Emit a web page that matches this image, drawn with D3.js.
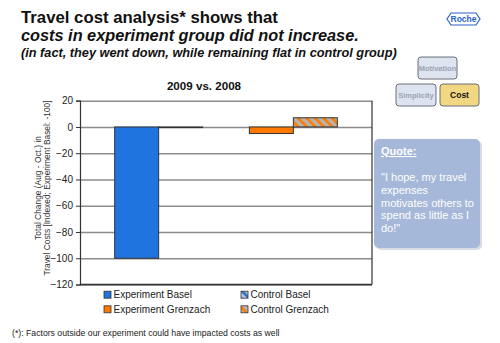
<!DOCTYPE html>
<html lang="en">
<head>
<meta charset="utf-8">
<script src="https://d3js.org/d3.v7.min.js"></script>
<style>
  body { margin: 0; background: #fff; }
  text { font-family: "Liberation Sans", Arial, sans-serif; }
</style>
</head>
<body>
<div id="chart"></div>
<script>

// data
var groups = ["Basel", "Grenzach"];
var seriesNames = ["Experiment", "Control"];
var experimentValues = [-100, -5];
var controlValues = [-0.5, 7];
var yTicks = [20, 0, -20, -40, -60, -80, -100, -120];
var legendLabels = ["Experiment Basel", "Control Basel", "Experiment Grenzach", "Control Grenzach"];
var titleLines = ["Travel cost analysis* shows that",
                  "costs in experiment group did not increase.",
                  "(in fact, they went down, while remaining flat in control group)"];
var quoteLines = ["\"I hope, my travel", "expenses", "motivates others to", "spend as little as I", "do!\""];

var W = 500, H = 343;
var plot = {left: 80, right: 372, top: 100.7, bottom: 284.5};

var svg = d3.select("#chart").append("svg")
  .attr("width", W).attr("height", H);

svg.append("rect").attr("width", W).attr("height", H).attr("fill", "#fff");

var defs = svg.append("defs");
function hatch(id, bg, stripe) {
  var p = defs.append("pattern")
    .attr("id", id)
    .attr("patternUnits", "userSpaceOnUse")
    .attr("width", 6).attr("height", 6)
    .attr("patternTransform", "rotate(-45)");
  p.append("rect").attr("width", 6).attr("height", 6).attr("fill", bg);
  p.append("rect").attr("width", 2.6).attr("height", 6).attr("fill", stripe);
}
hatch("hatchBlue", "#b9c3d3", "#2b6fd6");
hatch("hatchOrange", "#b5b5b5", "#ff7a00");

var fills = {
  "Experiment Basel": "#1f74e0",
  "Control Basel": "url(#hatchBlue)",
  "Experiment Grenzach": "#ff7800",
  "Control Grenzach": "url(#hatchOrange)"
};

// fit a text line to a measured width
function fitText(sel, width) {
  var len = sel.node().getComputedTextLength();
  var fs = parseFloat(sel.attr("font-size"));
  sel.attr("font-size", fs * width / len);
}

// titles
fitText(svg.append("text").attr("x", 21).attr("y", 22.5)
  .attr("font-size", 16).attr("font-weight", "bold").attr("fill", "#111")
  .text(titleLines[0]), 257);
fitText(svg.append("text").attr("x", 21).attr("y", 41.2)
  .attr("font-size", 16).attr("font-weight", "bold").attr("font-style", "italic").attr("fill", "#111")
  .text(titleLines[1]), 338);
fitText(svg.append("text").attr("x", 21).attr("y", 56.5)
  .attr("font-size", 12).attr("font-weight", "bold").attr("font-style", "italic").attr("fill", "#111")
  .text(titleLines[2]), 376);

// Roche logo
var logo = svg.append("g").attr("transform", "translate(447,13)");
logo.append("path")
  .attr("d", "M0,6 L4,0 L29,0 L33,6 L29,12 L4,12 Z")
  .attr("fill", "#fff").attr("stroke", "#2a62c9").attr("stroke-width", 1.2);
logo.append("text").attr("x", 16.5).attr("y", 9.3).attr("text-anchor", "middle")
  .attr("font-size", 8.5).attr("font-weight", "bold").attr("fill", "#2a62c9")
  .attr("font-family", "'Liberation Sans Narrow', 'Liberation Sans', sans-serif")
  .text("Roche");

// navigation boxes
var navBoxes = [
  {label: "Motivation", x: 418, y: 57, w: 39, h: 22, fill: "#dde4f0", color: "#9aa3b0"},
  {label: "Simplicity", x: 396, y: 84, w: 40, h: 22, fill: "#dde4f0", color: "#9aa3b0"},
  {label: "Cost", x: 440, y: 84, w: 39, h: 22, fill: "#f2d783", color: "#111"}
];
navBoxes.forEach(function(b) {
  svg.append("rect").attr("x", b.x).attr("y", b.y).attr("width", b.w).attr("height", b.h)
    .attr("rx", 3).attr("fill", b.fill).attr("stroke", "#6b6f78").attr("stroke-width", 1);
  svg.append("text").attr("x", b.x + b.w / 2).attr("y", b.y + b.h / 2 + 3)
    .attr("text-anchor", "middle").attr("font-size", b.label == "Cost" ? 8.5 : 7.5)
    .attr("font-weight", "bold").attr("fill", b.color).text(b.label);
});

// quote box
svg.append("rect").attr("x", 376).attr("y", 141).attr("width", 106).attr("height", 109)
  .attr("rx", 5).attr("fill", "#d7dbe2");
svg.append("rect").attr("x", 374).attr("y", 139).attr("width", 106).attr("height", 109)
  .attr("rx", 5).attr("fill", "#a5b8d9");
svg.append("text").attr("x", 381).attr("y", 155).attr("font-size", 11)
  .attr("font-weight", "bold").attr("fill", "#fff")
  .attr("text-decoration", "underline").text("Quote:");
quoteLines.forEach(function(l, i) {
  svg.append("text").attr("x", 381).attr("y", 181 + i * 12.8).attr("font-size", 11)
    .attr("fill", "#fff").text(l);
});

// scales
var y = d3.scaleLinear().domain([-120, 20]).range([plot.bottom, plot.top]);
var x0 = d3.scaleBand().domain(groups).range([plot.left, plot.right])
  .paddingInner(0.347).paddingOuter(0.2575);
var x1 = d3.scaleBand().domain(seriesNames).range([0, x0.bandwidth()]);

// gridlines
svg.append("g")
  .attr("transform", "translate(" + plot.left + ",0)")
  .call(d3.axisLeft(y).tickValues(yTicks).tickSize(-(plot.right - plot.left)).tickFormat(""))
  .call(function(g) { g.select(".domain").remove(); })
  .selectAll("line").attr("stroke", "#8c8c8c").attr("stroke-width", 1.5);

// chart title
svg.append("text").attr("x", 204).attr("y", 89.5).attr("text-anchor", "middle")
  .attr("font-size", 11.6).attr("font-weight", "bold").attr("fill", "#111")
  .text("2009 vs. 2008");

// bars
var barData = [];
groups.forEach(function(g, i) {
  barData.push({group: g, series: "Experiment", value: experimentValues[i]});
  barData.push({group: g, series: "Control", value: controlValues[i]});
});
svg.selectAll(".bar").data(barData).enter().append("rect")
  .attr("class", "bar")
  .attr("x", function(d) { return x0(d.group) + x1(d.series); })
  .attr("y", function(d) { return y(Math.max(0, d.value)); })
  .attr("width", x1.bandwidth())
  .attr("height", function(d) { return Math.abs(y(d.value) - y(0)); })
  .attr("fill", function(d) { return fills[d.series + " " + d.group]; })
  .attr("stroke", "#333").attr("stroke-width", 1);

// frame: right and bottom
svg.append("line").attr("x1", plot.right).attr("x2", plot.right)
  .attr("y1", plot.top).attr("y2", plot.bottom).attr("stroke", "#333").attr("stroke-width", 1.2);
svg.append("line").attr("x1", plot.left).attr("x2", plot.right)
  .attr("y1", plot.bottom).attr("y2", plot.bottom).attr("stroke", "#333").attr("stroke-width", 1.5);

// y axis
var yAxis = svg.append("g")
  .attr("transform", "translate(" + plot.left + ",0)")
  .call(d3.axisLeft(y).tickValues(yTicks).tickSize(4).tickPadding(3));
yAxis.select(".domain").attr("stroke", "#333").attr("stroke-width", 1.2);
yAxis.selectAll(".tick line").attr("stroke", "#333");
yAxis.selectAll("text").attr("font-size", 10).attr("fill", "#222")
  .attr("font-family", "'Liberation Sans', Arial, sans-serif");

// y axis label
var yLab = svg.append("text")
  .attr("transform", "translate(40.5,188) rotate(-90)")
  .attr("text-anchor", "middle").attr("font-size", 8.4).attr("fill", "#333");
yLab.append("tspan").attr("x", 0).attr("dy", 0).text("Total Change (Aug - Oct.) in");
yLab.append("tspan").attr("x", 0).attr("dy", 9).text("Travel Costs [Indexed; Experiment Basel: -100]");

// legend
var legendPos = [[104, 294.7], [241, 294.7], [104, 309.3], [241, 309.3]];
legendLabels.forEach(function(l, i) {
  var p = legendPos[i];
  svg.append("rect").attr("x", p[0]).attr("y", p[1] - 3.5).attr("width", 7).attr("height", 7)
    .attr("fill", fills[l]).attr("stroke", "#333").attr("stroke-width", 0.8);
  svg.append("text").attr("x", p[0] + 9.5).attr("y", p[1] + 3.6).attr("font-size", 10)
    .attr("fill", "#222").text(l);
});

// footnote
fitText(svg.append("text").attr("x", 12).attr("y", 336).attr("font-size", 9)
  .attr("fill", "#222").text("(*): Factors outside our experiment could have impacted costs as well"), 268);

</script>
</body>
</html>
